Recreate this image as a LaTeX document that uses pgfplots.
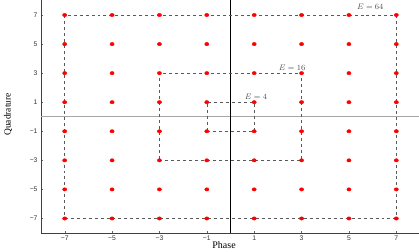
\documentclass[border=0pt]{standalone}
\usepackage{pgfplots}
\pgfplotsset{compat=1.18}
\usepackage{fontspec}
\setmainfont{Liberation Serif}
\newfontfamily\helv{Liberation Sans}
\begin{document}
\begin{tikzpicture}
\begin{axis}[
  scale only axis,
  width=379bp, height=232.5bp,
  xmin=-8, xmax=8, ymin=-8, ymax=8,
  axis x line=bottom, axis y line=left,
  axis line style={-, black!75},
  xtick={-7,-5,-3,-1,1,3,5,7},
  ytick={-7,-5,-3,-1,1,3,5,7},
  xticklabels={−7,−5,−3,−1,1,3,5,7},
  yticklabels={−7,−5,−3,−1,1,3,5,7},
  ticklabel style={font=\helv\fontsize{6.8}{7}\selectfont, black!80},
  tick align=inside, major tick length=2bp,
  tick style={black!60},
  xticklabel style={yshift=1bp},
  xlabel={Phase},
  ylabel={Quadrature},
  xlabel style={at={(axis description cs:0.483,0)}, anchor=north, yshift=-8bp, inner sep=0.5bp, font=\fontsize{10}{11}\selectfont},
  ylabel style={at={(axis description cs:-0.087,0.51)}, anchor=center, font=\fontsize{9.5}{10}\selectfont},
  clip=false,
]
% reference lines
\addplot[gray!70, line width=0.8pt, forget plot] coordinates {(-8,0) (8,0)};
\addplot[black, line width=0.6pt, forget plot] coordinates {(0,-8) (0,8)};
% energy boxes
\addplot[black!65, dashed, line width=0.5pt] coordinates {(-7,-7) (7,-7) (7,7) (-7,7) (-7,-7)};
\addplot[black!65, dashed, line width=0.5pt] coordinates {(-3,-3) (3,-3) (3,3) (-3,3) (-3,-3)};
\addplot[black!65, dashed, line width=0.5pt] coordinates {(-1,-1) (1,-1) (1,1) (-1,1) (-1,-1)};
% constellation points
\addplot[only marks, mark=*, mark size=1.7pt, red, mark options={fill=red, draw=none, xscale=1.25}] coordinates {
(-7,-7) (-7,-5) (-7,-3) (-7,-1) (-7,1) (-7,3) (-7,5) (-7,7)
(-5,-7) (-5,-5) (-5,-3) (-5,-1) (-5,1) (-5,3) (-5,5) (-5,7)
(-3,-7) (-3,-5) (-3,-3) (-3,-1) (-3,1) (-3,3) (-3,5) (-3,7)
(-1,-7) (-1,-5) (-1,-3) (-1,-1) (-1,1) (-1,3) (-1,5) (-1,7)
(1,-7) (1,-5) (1,-3) (1,-1) (1,1) (1,3) (1,5) (1,7)
(3,-7) (3,-5) (3,-3) (3,-1) (3,1) (3,3) (3,5) (3,7)
(5,-7) (5,-5) (5,-3) (5,-1) (5,1) (5,3) (5,5) (5,7)
(7,-7) (7,-5) (7,-3) (7,-1) (7,1) (7,3) (7,5) (7,7)
};
\node[font=\fontsize{8.5}{9}\selectfont, black!70] at (axis cs:5.9,7.55) {$E=64$};
\node[font=\fontsize{8.5}{9}\selectfont, black!70] at (axis cs:2.6,3.4) {$E=16$};
\node[font=\fontsize{8.5}{9}\selectfont, black!70] at (axis cs:1.08,1.4) {$E=4$};
\end{axis}
\pgfresetboundingbox
\useasboundingbox (-41bp,-19bp) rectangle (378bp,233bp);
\end{tikzpicture}
\end{document}
